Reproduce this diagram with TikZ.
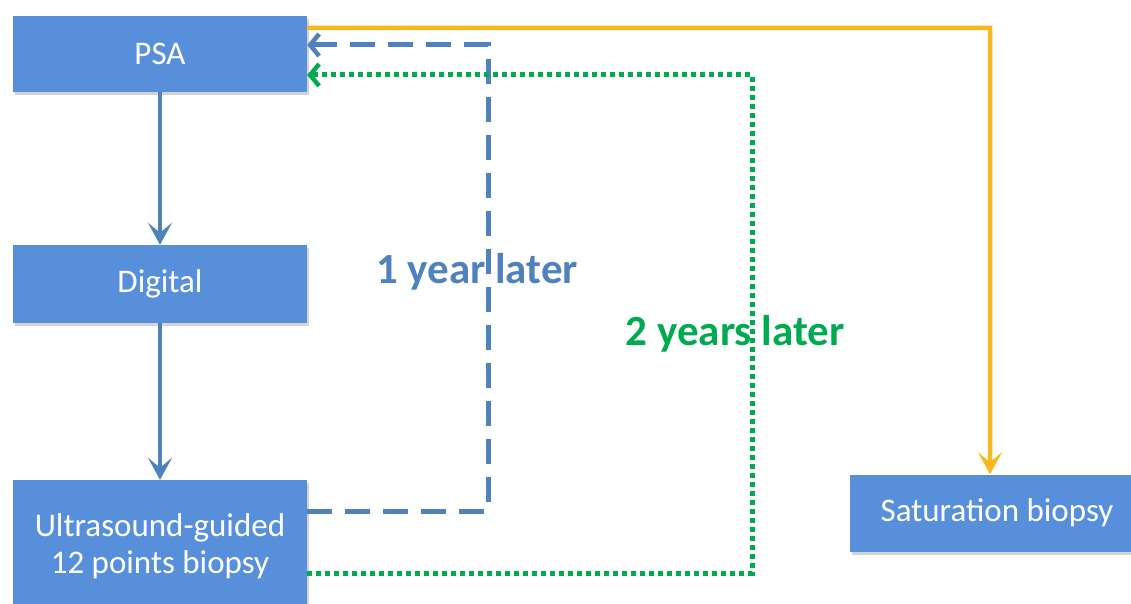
\documentclass[tikz,border=0pt]{standalone}
\usepackage{fontspec}
\setmainfont{Carlito}
\usetikzlibrary{arrows.meta,shadows}
\definecolor{boxblue}{RGB}{88,143,218}
\definecolor{arrblue}{RGB}{79,129,189}
\definecolor{dgreen}{RGB}{0,170,80}
\definecolor{gold}{RGB}{247,186,30}
\tikzset{
  box/.style={draw=none, fill=boxblue, text=white, minimum width=294pt, align=center,
    font=\fontsize{33}{37}\selectfont, inner sep=0pt,
    drop shadow={shadow xshift=2pt, shadow yshift=-3pt, opacity=0.35}},
  tip/.style={-{Stealth[length=22pt,width=24pt,inset=10pt]}},
  arr/.style={line width=4.5pt, tip},
  lbl/.style={font=\fontsize{43}{48}\selectfont\bfseries, inner sep=0pt, anchor=base}
}
\begin{document}
\begin{tikzpicture}[x=1pt,y=-1pt]
\useasboundingbox (0,0) rectangle (1131,604);
\node[box, minimum height=76pt] (psa) at (160,54) {PSA};
\node[box, minimum height=78pt] (dig) at (160,284) {Digital};
\node[box, minimum height=132pt] (us) at (160,546) {Ultrasound-guided\\12 points biopsy};
\node[box, minimum height=77pt] (sat) at (997,513) {Saturation biopsy};
\node[lbl, text=arrblue] (l1) at (477,283) {1 year later};
\node[lbl, text=dgreen] (l2) at (735,345) {2 years later};
\draw[arr, arrblue] (psa) -- (dig);
\draw[arr, arrblue] (dig) -- (us);
\draw[arr, gold]
  ([yshift=26pt]psa.east) -- ++(683,0) -- (sat.north -| 990,0);
\draw[line width=5pt, arrblue, dash pattern=on 25pt off 13pt, -{Straight Barb[length=9pt,width=22pt,line width=4.5pt]}]
  ([yshift=35pt]us.east) -- ++(181,0) |- ([yshift=9pt]psa.east);
\draw[line width=5pt, dgreen, dash pattern=on 5pt off 4pt, -{Straight Barb[length=9pt,width=22pt,line width=4.5pt]}]
  ([yshift=-27pt]us.east) -- ++(445,0) |- ([yshift=-21pt]psa.east);
\end{tikzpicture}
\end{document}
